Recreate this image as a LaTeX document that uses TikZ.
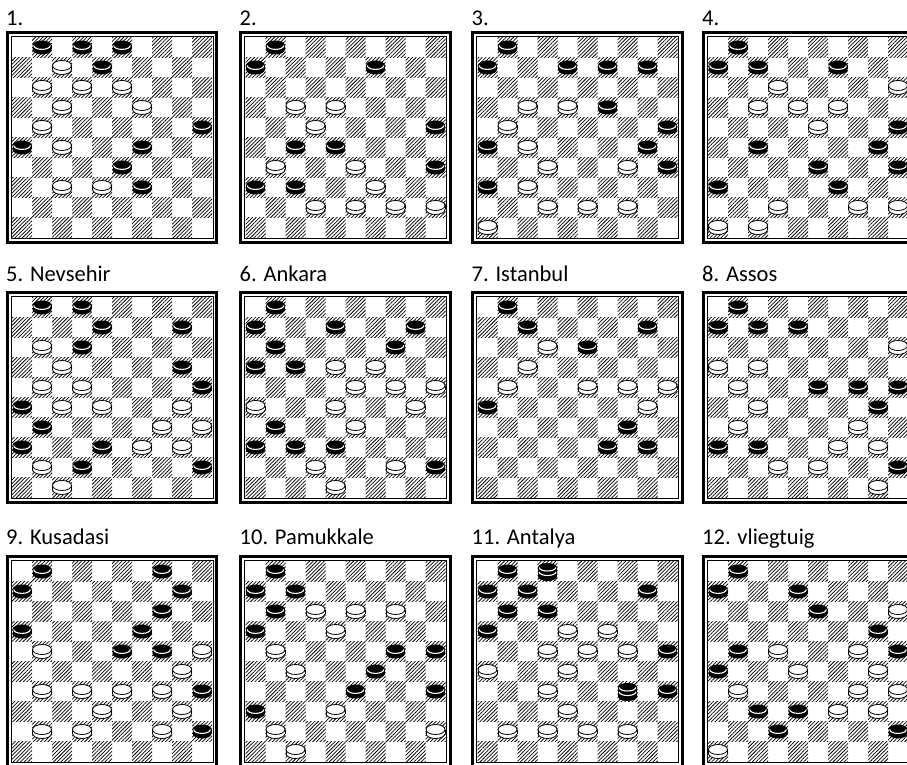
\documentclass[tikz,border=0pt]{standalone}
\usepackage{fontspec}
\setmainfont{Carlito}
\usetikzlibrary{patterns.meta}

\tikzset{
  darksq/.style={pattern={Lines[angle=45,distance=2.6pt,line width=0.75pt]}},
  outerframe/.style={line width=2.8pt},
  innerframe/.style={line width=0.9pt},
  boardlabel/.style={anchor=base west,inner sep=0pt},
  manline/.style={line width=0.8pt},
  crownline/.style={white,line width=1.1pt}
}

\newcommand\wman[2]{%
  \begin{scope}[shift={(20*#1+10,-20*#2-10)}]
    \filldraw[manline,fill=white] (0,-2) ellipse (9.5 and 5);
    \fill[white] (-9.5,-2) rectangle (9.5,2);
    \draw[manline] (-9.5,-2) -- (-9.5,2) (9.5,-2) -- (9.5,2);
    \filldraw[manline,fill=white] (0,2) ellipse (9.5 and 5);
  \end{scope}}
\newcommand\bman[2]{%
  \begin{scope}[shift={(20*#1+10,-20*#2-10)}]
    \fill (0,-2) ellipse (9.5 and 5);
    \fill (-9.5,-2) rectangle (9.5,2);
    \fill (0,2) ellipse (9.5 and 5);
    \draw[crownline] (-8.3,2) arc[start angle=180,end angle=360,x radius=8.3,y radius=3.9];
  \end{scope}}
\newcommand\bking[2]{%
  \begin{scope}[shift={(20*#1+10,-20*#2-10)}]
    \fill (0,-5) ellipse (9.5 and 4.5);
    \fill (-9.5,-5) rectangle (9.5,4);
    \fill (0,4) ellipse (9.5 and 4.5);
    \draw[crownline] (-8.3,4) arc[start angle=180,end angle=360,x radius=8.3,y radius=3.5]
                     (-8.3,-0.5) arc[start angle=180,end angle=360,x radius=8.3,y radius=3.5];
  \end{scope}}
% #1,#2 top left of the squares, #3 black men, #4 white men
\newcommand\board[4]{%
  \begin{scope}[shift={(#1,#2)}]
    \foreach \ra in {0,...,9}
      \foreach \ka in {0,...,4}{%
        \pgfmathtruncatemacro\ca{2*\ka+1-mod(\ra,2)}%
        \fill[darksq] (20*\ca,-20*\ra) rectangle ++(20,-20);}
    \draw[innerframe] (-1,1) rectangle (201,-201);
    \draw[outerframe] (-4.8,4.8) rectangle (204.8,-204.8);
    \foreach \ca/\ra in {#3} {\bman{\ca}{\ra}}
    \foreach \ca/\ra in {#4} {\wman{\ca}{\ra}}
  \end{scope}}

\begin{document}
\begin{tikzpicture}[x=1pt,y=1pt,font=\fontsize{22.5}{27}\selectfont]
\path[use as bounding box] (0,0) rectangle (907,764);
\clip (0,0) rectangle (907,764);

\board{12}{726.5}{1/0,3/0,5/0,4/1,9/4,0/5,6/5,5/6,6/7}
  {2/1,1/2,3/2,5/2,2/3,6/3,1/4,2/5,2/7,4/7}
\board{245.5}{726.5}{1/0,0/1,6/1,9/4,2/5,4/5,9/6,0/7,2/7}
  {2/3,4/3,3/4,1/6,5/6,6/7,3/8,5/8,7/8,9/8}
\board{477.5}{726.5}{1/0,0/1,4/1,6/1,8/1,6/3,9/4,0/5,8/5,9/6,0/7}
  {2/3,4/3,1/4,2/5,3/6,7/6,2/7,3/8,5/8,7/8,0/9}
\board{708}{726.5}{1/0,0/1,2/1,6/1,9/4,2/5,8/5,5/6,9/6,0/7,6/7}
  {3/2,9/2,2/3,4/3,6/3,5/4,3/8,7/8,9/8,0/9,2/9}

\board{12}{466.5}{1/0,3/0,4/1,8/1,3/2,8/3,9/4,0/5,1/6,0/7,4/7,3/8,9/8}
  {1/2,2/3,1/4,3/4,2/5,4/5,8/5,7/6,9/6,6/7,8/7,1/8,2/9}
\board{245.5}{466.5}{1/0,0/1,4/1,8/1,1/2,7/2,0/3,2/3,1/6,0/7,2/7,4/7,9/8}
  {4/3,6/3,5/4,7/4,9/4,0/5,4/5,8/5,5/6,3/8,7/8,4/9}
\board{477.5}{466.5}{1/0,2/1,8/1,5/2,0/5,7/6,6/7,8/7}
  {3/2,2/3,1/4,5/4,7/4,9/4,8/5}
\board{708}{466.5}{1/0,0/1,2/1,4/1,5/4,7/4,9/4,8/5,0/7,2/7,9/8}
  {9/2,0/3,2/3,1/4,2/5,1/6,7/6,6/7,8/7,3/8,5/8,8/9}

\board{12}{202.5}{1/0,7/0,0/1,8/1,7/2,0/3,6/3,5/4,7/4,9/6,9/8}
  {1/4,9/4,8/5,1/6,3/6,5/6,7/6,4/7,8/7,1/8,3/8,7/8}
\board{245.5}{202.5}{1/0,0/1,2/1,1/2,0/3,7/4,9/4,6/5,5/6,9/6,0/7}
  {3/2,5/2,7/2,4/3,1/4,2/5,4/7,1/8,9/8,2/9}
\board{477.5}{202.5}{1/0,0/1,2/1,8/1,1/2,3/2,0/3,9/4,9/6}
  {4/3,6/3,3/4,5/4,7/4,0/5,4/5,3/6,4/7,1/8,3/8,5/8,7/8}
\begin{scope}[shift={(477.5,202.5)}]
  \bking{3}{0} \bking{7}{6}
\end{scope}
\board{708}{202.5}{1/0,0/1,4/1,5/2,8/3,1/4,9/4,0/5,2/7,4/7,3/8,9/8}
  {9/2,3/4,7/4,4/5,8/5,1/6,7/6,9/6,6/7,8/7,0/9}

\foreach \n/\x/\y/\t in {1/6/738/1., 2/239.5/738/2., 3/471.5/738/3., 4/702/738/4.,
    5/6/482/5. Nevsehir, 6/239.5/482/6. Ankara, 7/471.5/482/7. Istanbul, 8/702/482/8. Assos,
    9/6/220/9. Kusadasi, 10/239.5/220/10. Pamukkale, 11/471.5/220/11. Antalya,
    12/702/220/12. vliegtuig}
  \node[boardlabel] (lab\n) at (\x,\y) {\t};
\end{tikzpicture}
\end{document}
